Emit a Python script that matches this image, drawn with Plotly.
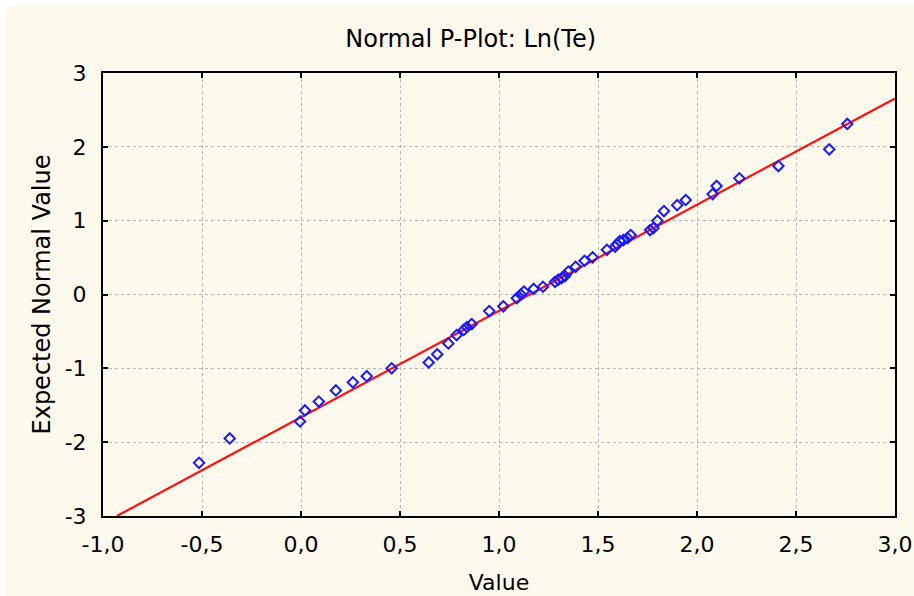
import numpy as np
import plotly.graph_objects as go

# Observed values (x) and expected normal values (y)
obs_value = [-0.515, -0.36, -0.005, 0.02, 0.09, 0.176, 0.262, 0.332, 0.458,
             0.645, 0.688, 0.744, 0.786, 0.822, 0.838, 0.862, 0.951, 1.022,
             1.09, 1.11, 1.126, 1.175, 1.222, 1.283, 1.30, 1.316, 1.333, 1.35,
             1.387, 1.432, 1.473, 1.545, 1.586, 1.596, 1.61, 1.628, 1.649,
             1.665, 1.763, 1.78, 1.80, 1.833, 1.90, 1.943, 2.079, 2.099, 2.214,
             2.411, 2.668, 2.759]
expected_normal = [-2.28, -1.95, -1.72, -1.57, -1.45, -1.30, -1.19, -1.106, -1.0,
                   -0.92, -0.81, -0.663, -0.55, -0.48, -0.44, -0.40, -0.225, -0.16,
                   -0.05, 0.0, 0.04, 0.075, 0.105, 0.172, 0.20, 0.222, 0.25, 0.31,
                   0.375, 0.457, 0.503, 0.605, 0.647, 0.68, 0.724, 0.735, 0.765,
                   0.805, 0.873, 0.90, 1.0, 1.13, 1.21, 1.28, 1.36, 1.47, 1.573,
                   1.74, 1.966, 2.31]

# Reference normal line parameters
line_mean = 1.155
line_sd = 0.695

x_tickvals = [-1.0, -0.5, 0.0, 0.5, 1.0, 1.5, 2.0, 2.5, 3.0]
x_ticktext = ["-1,0", "-0,5", "0,0", "0,5", "1,0", "1,5", "2,0", "2,5", "3,0"]
y_tickvals = [-3, -2, -1, 0, 1, 2, 3]
y_ticktext = ["-3", "-2", "-1", "0", "1", "2", "3"]

x_range = [-1.0, 3.0]
y_range = [-3.0, 3.0]

FONT = "DejaVu Sans, sans-serif"
FS = 22

x_lo = line_mean + line_sd * y_range[0]
x_hi = x_range[1]
line_x = np.array([x_lo, x_hi])
line_y = (line_x - line_mean) / line_sd

fig = go.Figure()
fig.add_trace(go.Scatter(x=line_x, y=line_y, mode="lines",
                         line=dict(color="#ff1010", width=2.2),
                         showlegend=False, hoverinfo="skip"))
fig.add_trace(go.Scatter(x=obs_value, y=expected_normal, mode="markers",
                         marker=dict(symbol="diamond-open", color="#1a1aff",
                                     size=8, line=dict(width=2, color="#1a1aff")),
                         showlegend=False))

fig.update_layout(
    width=914, height=596,
    paper_bgcolor="white",
    plot_bgcolor="white",
    margin=dict(l=103, r=19, t=73, b=80),
    font=dict(family=FONT, size=FS, color="black"),
    title=dict(text="Normal P-Plot: Ln(Te)", x=0.515, xanchor="center",
               y=1 - 39 / 596, yanchor="middle",
               font=dict(family=FONT, size=24, color="black")),
    shapes=[dict(type="rect", xref="paper", yref="paper",
                 x0=-97 / 792, x1=1 + 19 / 792, y0=-80 / 443, y1=1 + 67 / 443,
                 fillcolor="#fef9ed", line=dict(width=0), layer="below")],
)

fig.update_xaxes(range=x_range, tickvals=x_tickvals, ticktext=x_ticktext,
                 automargin=False,
                 showgrid=True, gridcolor="#b8b8b8", griddash="dot", gridwidth=1,
                 zeroline=False, showline=True, linecolor="black", linewidth=2,
                 mirror="ticks", ticks="inside", ticklen=5, tickwidth=2,
                 tickcolor="black", ticklabelstandoff=8,
                 tickfont=dict(family=FONT, size=FS),
                 title=dict(text="Value", standoff=18,
                            font=dict(family=FONT, size=FS)))
fig.update_yaxes(range=y_range, tickvals=y_tickvals, ticktext=y_ticktext,
                 automargin=False,
                 showgrid=True, gridcolor="#b8b8b8", griddash="dot", gridwidth=1,
                 zeroline=False, showline=True, linecolor="black", linewidth=2,
                 mirror="ticks", ticks="inside", ticklen=5, tickwidth=2,
                 tickcolor="black", ticklabelstandoff=10,
                 tickfont=dict(family=FONT, size=FS),
                 title=dict(text="Expected Normal Value", standoff=7,
                            font=dict(family=FONT, size=24)))

fig.write_html("out.html")
